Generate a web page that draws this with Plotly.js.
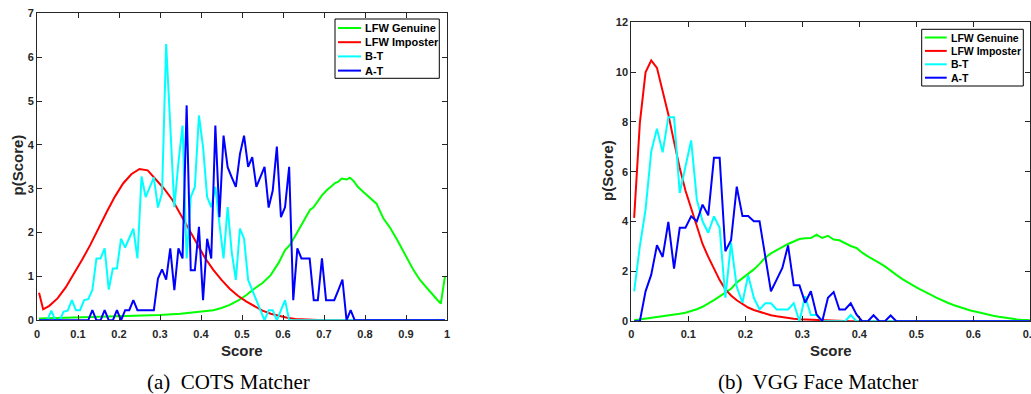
<!DOCTYPE html>
<html>
<head>
<meta charset="utf-8">
<script src="https://cdn.plot.ly/plotly-3.0.1.min.js"></script>
<style>
  html, body { margin: 0; padding: 0; background: #ffffff; }
  #chart { width: 1031px; height: 394px; }
</style>
</head>
<body>
<div id="chart"></div>
<script>
// ---------------- DATA ----------------
const seriesNames  = ['LFW Genuine', 'LFW Imposter', 'B-T', 'A-T'];
const seriesColors = ['#00ff00', '#ff0000', '#00ffff', '#0000ff'];
const captions     = ['(a)  COTS Matcher', '(b)  VGG Face Matcher'];
const xTitle = 'Score';
const yTitle = 'p(Score)';
const cotsXTicks = [0, 0.1, 0.2, 0.3, 0.4, 0.5, 0.6, 0.7, 0.8, 0.9, 1];
const cotsYTicks = [0, 1, 2, 3, 4, 5, 6, 7];
const vggXTicks  = [0, 0.1, 0.2, 0.3, 0.4, 0.5, 0.6, 0.7];
const vggYTicks  = [0, 2, 4, 6, 8, 10, 12];

// (a) COTS Matcher
const cotsGenuineX = [0.005,0.05,0.1,0.15,0.2,0.25,0.3,0.35,0.4,0.43,0.45,0.47,0.49,0.51,0.53,0.55,0.57,0.59,0.605,0.617,0.63,0.645,0.655,0.666,0.674,0.685,0.695,0.706,0.716,0.727,0.735,0.743,0.755,0.763,0.772,0.782,0.792,0.81,0.828,0.845,0.862,0.881,0.902,0.918,0.934,0.95,0.963,0.975,0.985,0.995];
const cotsGenuineY = [0.04,0.05,0.06,0.08,0.09,0.1,0.12,0.15,0.19,0.23,0.28,0.35,0.45,0.57,0.72,0.85,1.03,1.32,1.6,1.72,1.93,2.17,2.35,2.52,2.57,2.72,2.85,2.96,3.05,3.13,3.16,3.23,3.21,3.25,3.18,3.05,2.96,2.82,2.66,2.32,2.1,1.79,1.41,1.15,0.92,0.74,0.6,0.48,0.38,1.0];

const cotsImposterX = [0.005,0.015,0.03,0.05,0.07,0.09,0.11,0.13,0.15,0.17,0.19,0.21,0.23,0.25,0.27,0.29,0.31,0.33,0.35,0.37,0.39,0.41,0.43,0.45,0.47,0.49,0.51,0.53,0.55,0.57,0.59,0.61,0.63,0.66,0.7,0.995];
const cotsImposterY = [0.63,0.25,0.33,0.5,0.75,1.05,1.38,1.72,2.1,2.47,2.82,3.12,3.33,3.45,3.42,3.22,3.0,2.75,2.42,2.07,1.73,1.42,1.15,0.92,0.72,0.56,0.43,0.32,0.22,0.15,0.1,0.06,0.03,0.01,0,0];

const cotsBTX = [0.005,0.015,0.025,0.035,0.045,0.055,0.065,0.075,0.085,0.095,0.105,0.115,0.125,0.135,0.145,0.155,0.165,0.175,0.185,0.195,0.205,0.215,0.225,0.235,0.245,0.255,0.265,0.275,0.285,0.295,0.305,0.315,0.325,0.335,0.345,0.355,0.365,0.375,0.385,0.395,0.405,0.415,0.425,0.435,0.445,0.455,0.465,0.475,0.485,0.495,0.505,0.515,0.525,0.535,0.545,0.555,0.565,0.575,0.585,0.595,0.605,0.615,0.995];
const cotsBTY = [0,0,0,0.22,0,0,0.2,0.22,0.46,0.23,0.23,0.46,0.48,0.69,1.41,1.41,1.64,0.7,1.18,1.18,1.86,1.66,1.87,2.09,1.41,3.28,2.81,3.05,3.26,2.57,2.9,6.3,4.45,2.58,3.6,4.44,1.41,2.81,3.04,4.67,3.95,2.81,2.58,3.04,2.2,1.41,2.58,1.55,0.92,2.09,1.86,0.92,0.69,0.46,0.23,0,0.23,0.23,0,0.23,0.46,0,0];

const cotsATX = [0.005,0.125,0.135,0.145,0.155,0.165,0.175,0.185,0.195,0.205,0.215,0.225,0.235,0.245,0.255,0.265,0.275,0.285,0.295,0.305,0.315,0.325,0.335,0.345,0.355,0.365,0.375,0.385,0.395,0.405,0.415,0.425,0.435,0.445,0.455,0.465,0.475,0.485,0.495,0.505,0.515,0.525,0.535,0.545,0.555,0.565,0.575,0.585,0.595,0.605,0.615,0.625,0.635,0.645,0.655,0.665,0.675,0.685,0.695,0.705,0.715,0.725,0.735,0.745,0.755,0.765,0.775,0.995];
const cotsATY = [0,0,0.23,0,0,0.23,0,0,0.23,0,0.23,0.23,0.46,0.23,0.23,0.23,0.23,0.23,0.95,1.16,0.93,1.64,0.69,1.64,1.41,4.9,1.14,1.14,2.13,0.46,1.86,1.41,4.44,2.35,4.21,3.49,3.26,3.04,3.79,4.21,3.5,3.72,3.04,3.26,3.5,2.57,2.96,3.96,2.35,2.58,3.5,0.46,1.64,1.41,1.41,1.41,0.46,0.46,1.41,0.46,0.46,0.46,0.69,0.93,0,0.23,0,0];

// (b) VGG Face Matcher
const vggGenuineX = [0.005,0.015,0.025,0.035,0.045,0.055,0.065,0.075,0.085,0.095,0.105,0.115,0.125,0.135,0.145,0.155,0.165,0.175,0.185,0.195,0.205,0.215,0.225,0.235,0.245,0.255,0.265,0.275,0.285,0.295,0.305,0.315,0.325,0.335,0.345,0.355,0.365,0.375,0.385,0.395,0.405,0.415,0.425,0.435,0.445,0.455,0.465,0.475,0.485,0.495,0.505,0.515,0.525,0.535,0.545,0.555,0.565,0.575,0.585,0.595,0.605,0.615,0.625,0.635,0.645,0.655,0.665,0.675,0.685,0.695,0.705];
const vggGenuineY = [0.04,0.07,0.1,0.13,0.16,0.2,0.23,0.26,0.3,0.34,0.4,0.48,0.58,0.7,0.85,1.0,1.15,1.3,1.55,1.72,1.9,2.08,2.3,2.55,2.72,2.85,2.98,3.1,3.2,3.3,3.33,3.34,3.47,3.34,3.43,3.28,3.25,3.12,3.02,2.94,2.75,2.6,2.48,2.34,2.2,2.02,1.86,1.7,1.55,1.43,1.3,1.2,1.07,0.95,0.83,0.74,0.65,0.57,0.5,0.43,0.38,0.32,0.27,0.22,0.18,0.14,0.11,0.08,0.06,0.04,0.03];

const vggImposterX = [0.005,0.015,0.025,0.035,0.045,0.055,0.065,0.075,0.085,0.095,0.105,0.115,0.125,0.135,0.145,0.155,0.165,0.175,0.185,0.195,0.205,0.215,0.225,0.235,0.245,0.255,0.265,0.275,0.285,0.295,0.305,0.315,0.325,0.335,0.345,0.355,0.365,0.375,0.385,0.705];
const vggImposterY = [4.15,7.96,9.99,10.47,10.17,9.25,8.3,7.2,6.15,5.25,4.5,3.75,3.1,2.58,2.1,1.65,1.28,1.03,0.84,0.68,0.55,0.45,0.37,0.3,0.24,0.2,0.16,0.13,0.1,0.08,0.07,0.05,0.04,0.03,0.02,0.02,0.01,0.01,0,0];

const vggBTX = [0.005,0.015,0.025,0.035,0.045,0.055,0.065,0.075,0.085,0.095,0.105,0.115,0.125,0.135,0.145,0.155,0.165,0.175,0.185,0.195,0.205,0.215,0.225,0.235,0.245,0.255,0.265,0.275,0.285,0.295,0.305,0.315,0.325,0.335,0.375,0.385,0.395,0.705];
const vggBTY = [1.2,3.01,4.48,6.82,7.73,6.78,8.19,8.19,5.15,6.22,7.26,4.88,4.01,3.55,4.21,3.75,0.94,3.15,1.38,0.74,1.85,0.94,0.47,0.72,0.72,0.47,0.47,0.47,0.72,0,1.0,0.25,0.25,0,0,0.25,0,0];

const vggATX = [0.005,0.015,0.025,0.035,0.045,0.055,0.065,0.075,0.085,0.095,0.105,0.115,0.125,0.135,0.145,0.155,0.165,0.175,0.185,0.195,0.205,0.215,0.225,0.235,0.245,0.255,0.265,0.275,0.285,0.295,0.305,0.315,0.325,0.335,0.345,0.355,0.365,0.375,0.385,0.395,0.405,0.415,0.425,0.435,0.445,0.455,0.465,0.705];
const vggATY = [0,0,1.2,1.87,3.05,2.58,3.99,2.11,3.75,3.75,4.21,4.01,4.68,4.25,6.56,6.56,2.81,3.25,5.4,4.22,4.22,4.01,4.01,2.6,1.2,1.67,2.14,3.04,1.44,1.44,0.74,1.2,0.27,0,0.94,1.17,0.47,0.47,0.72,0.27,0,0,0.24,0,0,0.23,0,0];

// ---------------- LAYOUT HELPERS ----------------
const W = 1031, H = 394;
const px = x => x / W;
const py = y => 1 - y / H;
const AXC = '#262626';
const SANS = 'Liberation Sans, Arial, Helvetica, sans-serif';
const SERIF = 'Liberation Serif, Times New Roman, serif';

const panels = [
  { xs: [cotsGenuineX, cotsImposterX, cotsBTX, cotsATX], ys: [cotsGenuineY, cotsImposterY, cotsBTY, cotsATY], xa: 'x', ya: 'y' },
  { xs: [vggGenuineX, vggImposterX, vggBTX, vggATX], ys: [vggGenuineY, vggImposterY, vggBTY, vggATY], xa: 'x2', ya: 'y2' }
];

const traces = [];
panels.forEach(p => {
  for (let i = 0; i < seriesNames.length; i++) {
    traces.push({
      x: p.xs[i], y: p.ys[i], xaxis: p.xa, yaxis: p.ya,
      type: 'scatter', mode: 'lines', name: seriesNames[i],
      line: { color: seriesColors[i], width: 2 },
      showlegend: false, hoverinfo: 'skip'
    });
  }
});

function axisBase(extra) {
  return Object.assign({
    showline: true, mirror: 'ticks', linecolor: AXC, linewidth: 1,
    ticks: 'inside', ticklen: 5, tickwidth: 1, tickcolor: AXC,
    showgrid: false, zeroline: false, fixedrange: true,
    tickmode: 'array', ticklabeloverflow: 'allow',
    tickfont: { family: SANS, size: 11, color: AXC, weight: 'bold' }
  }, extra);
}

const shapes = [];
const annotations = [];

function addLegend(box, rowStart, rowStep, lx0, lx1, tx, fontSize) {
  shapes.push({ type: 'rect', xref: 'paper', yref: 'paper', layer: 'above',
    x0: px(box[0]), x1: px(box[2]), y0: py(box[1]), y1: py(box[3]),
    line: { color: '#000000', width: 1 }, fillcolor: '#ffffff' });
  seriesNames.forEach((nm, i) => {
    const yy = rowStart + i * rowStep;
    shapes.push({ type: 'line', xref: 'paper', yref: 'paper', layer: 'above',
      x0: px(lx0), x1: px(lx1), y0: py(yy), y1: py(yy),
      line: { color: seriesColors[i], width: 2 } });
    annotations.push({ xref: 'paper', yref: 'paper', x: px(tx), y: py(yy),
      xanchor: 'left', yanchor: 'middle', showarrow: false, text: nm,
      font: { family: SANS, size: fontSize, color: '#000000', weight: 'bold' } });
  });
}
addLegend([335, 19, 439.3, 78.3], 28, 14.2, 338, 361, 363, 11);
addLegend([921.7, 29.3, 1023.3, 86], 37.5, 13.4, 925, 946.7, 949, 10.5);

function addText(x, y, text, font, angle) {
  annotations.push({ xref: 'paper', yref: 'paper', x: px(x), y: py(y),
    xanchor: 'center', yanchor: 'middle', showarrow: false, text: text,
    textangle: angle || 0, font: font });
}
const titleFont = { family: SANS, size: 15, color: AXC, weight: 'bold' };
const capFont = { family: SERIF, size: 21, color: '#000000' };
addText(242, 350, xTitle, titleFont);
addText(830.8, 350, xTitle, titleFont);
addText(16.5, 165, yTitle, titleFont, -90);
addText(607, 171, yTitle, titleFont, -90);
addText(228, 381.5, captions[0], capFont);
addText(818, 381.5, captions[1], capFont);

const layout = {
  width: W, height: H,
  margin: { l: 0, r: 0, t: 0, b: 0, pad: 0 },
  paper_bgcolor: '#ffffff', plot_bgcolor: '#ffffff',
  showlegend: false,
  xaxis: axisBase({ domain: [px(37), px(447)], range: [0, 1], tickvals: cotsXTicks, ticklabelstandoff: 3, anchor: 'y' }),
  yaxis: axisBase({ domain: [py(320.3), py(13.3)], range: [0, 7], tickvals: cotsYTicks, anchor: 'x' }),
  xaxis2: axisBase({ domain: [px(631.3), px(1030.3)], range: [0, 0.7], tickvals: vggXTicks, ticklabelstandoff: 3, anchor: 'y2' }),
  yaxis2: axisBase({ domain: [py(321.2), py(22.3)], range: [0, 12], tickvals: vggYTicks, anchor: 'x2' }),
  shapes: shapes,
  annotations: annotations
};

Plotly.newPlot('chart', traces, layout, { staticPlot: true, displayModeBar: false });
</script>
</body>
</html>
